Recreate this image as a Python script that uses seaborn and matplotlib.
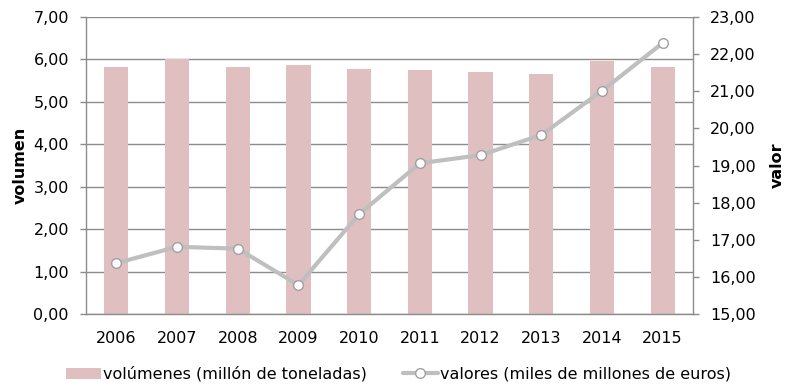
import numpy as np
import pandas as pd
import matplotlib
matplotlib.use("Agg")
import matplotlib.pyplot as plt
from matplotlib.lines import Line2D
from matplotlib.patches import Patch
from matplotlib.ticker import FuncFormatter, MultipleLocator, FixedLocator
import seaborn as sns

years = ["2006", "2007", "2008", "2009", "2010", "2011", "2012", "2013", "2014", "2015"]
volumenes = [5.82, 6.00, 5.82, 5.87, 5.78, 5.75, 5.71, 5.65, 5.96, 5.82]
valores = [16.37, 16.81, 16.76, 15.78, 17.69, 19.06, 19.28, 19.82, 21.01, 22.30]

bar_label = "volúmenes (millón de toneladas)"
line_label = "valores (miles de millones de euros)"

sns.set_theme(style="white")
plt.rcParams["font.family"] = ["DejaVu Sans"]
plt.rcParams["font.size"] = 11.5
plt.rcParams["text.color"] = "black"
plt.rcParams["axes.labelcolor"] = "black"

BAR_COLOR = "#DFBFC0"
LINE_COLOR = "#BFBFBF"
AXIS_COLOR = "#8C8C8C"
FS = 11.5

fig = plt.figure(figsize=(7.97, 3.87), dpi=100)
ax = fig.add_axes([86 / 797, 1 - 314 / 387, (693 - 86) / 797, (314 - 17) / 387])

df = pd.DataFrame({"year": years, "vol": volumenes, "val": valores})
sns.barplot(data=df, x="year", y="vol", color=BAR_COLOR, saturation=1,
            width=0.4, linewidth=0, edgecolor="none", ax=ax, zorder=2)
ax.set_xlim(-0.5, len(years) - 0.5)
ax.set_ylim(0, 7)
ax.yaxis.set_major_locator(MultipleLocator(1))
comma_fmt = FuncFormatter(lambda v, p: f"{v:.2f}".replace(".", ","))
ax.yaxis.set_major_formatter(comma_fmt)
ax.grid(axis="y", color=AXIS_COLOR, linewidth=1, zorder=0)
ax.set_axisbelow(True)
ax.set_xlabel("")
ax.set_ylabel("volumen", fontweight="bold", fontsize=FS, labelpad=4)

# category boundaries carry the x tick marks
ax.xaxis.set_minor_locator(FixedLocator(np.arange(-0.5, len(years), 1.0)))
ax.tick_params(axis="x", which="major", length=0, pad=12, labelsize=FS, labelcolor="black")
ax.tick_params(axis="x", which="minor", length=6, width=1, color=AXIS_COLOR)
ax.tick_params(axis="y", length=4.3, width=1, color=AXIS_COLOR, labelsize=FS,
               pad=8, labelcolor="black")

for side in ["top", "right"]:
    ax.spines[side].set_visible(False)
for side in ["left", "bottom"]:
    ax.spines[side].set_color(AXIS_COLOR)
    ax.spines[side].set_linewidth(1)

ax2 = ax.twinx()
sns.lineplot(x=np.arange(len(years)), y=valores, ax=ax2, color=LINE_COLOR,
             linewidth=3, marker="o", markersize=7, markerfacecolor="white",
             markeredgecolor="#A0A0A0", markeredgewidth=1, zorder=5)
ax2.set_ylim(15, 23)
ax2.yaxis.set_major_locator(MultipleLocator(1))
ax2.yaxis.set_major_formatter(comma_fmt)
ax2.set_ylabel("valor", fontweight="bold", fontsize=FS, labelpad=10)
ax2.tick_params(axis="y", length=4.3, width=1, color=AXIS_COLOR, labelsize=FS,
                pad=8, labelcolor="black")
ax2.grid(False)
for side in ["top", "left", "bottom"]:
    ax2.spines[side].set_visible(False)
ax2.spines["right"].set_color(AXIS_COLOR)
ax2.spines["right"].set_linewidth(1)

handles = [
    Patch(facecolor=BAR_COLOR, edgecolor="none", label=bar_label),
    Line2D([0], [0], color=LINE_COLOR, linewidth=3, marker="o", markersize=7,
           markerfacecolor="white", markeredgecolor="#A0A0A0", label=line_label),
]
fig.legend(handles=handles, loc="center", bbox_to_anchor=(0.5, 1 - 374 / 387),
           ncol=2, frameon=False, fontsize=FS, handlelength=2.2,
           handletextpad=0.15, columnspacing=2.2, labelcolor="black")

fig.savefig("out.png", dpi=100)
